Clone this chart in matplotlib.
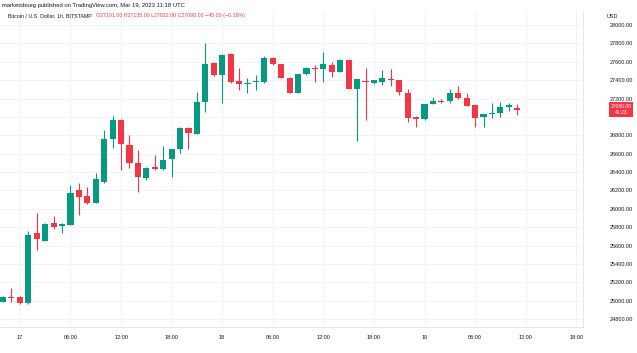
import numpy as np
import pandas as pd
import matplotlib
matplotlib.use("Agg")
from matplotlib import pyplot as plt
from matplotlib import rcParams

# hourly BTC/USD candles, Bitstamp, from 2023-03-16 22:00 UTC
opens = [24985, 25040, 25040, 24975, 25735, 25650, 25845, 25815, 25825, 26205,
         26140, 26065, 26290, 26760, 26965, 26695, 26500, 26335, 26455, 26435,
         26540, 26650, 26880, 26815, 27160, 27585, 27455, 27685, 27390, 27360,
         27380, 27380, 27640, 27575, 27425, 27260, 27465, 27530, 27520, 27565,
         27490, 27620, 27305, 27390, 27370, 27380, 27410, 27400, 27260, 27000,
         26975, 27140, 27175, 27170, 27260, 27205, 27130, 26995, 27030, 27045,
         27110, 27101]
highs = [25045, 25140, 25050, 25760, 25955, 25845, 25920, 25840, 26260, 26280,
         26235, 26390, 26860, 27010, 26975, 26805, 26640, 26450, 26585, 26685,
         26655, 26890, 26890, 27270, 27805, 27600, 27680, 27695, 27530, 27425,
         27455, 27665, 27650, 27580, 27430, 27470, 27545, 27565, 27705, 27595,
         27625, 27625, 27415, 27530, 27405, 27510, 27520, 27405, 27305, 27005,
         27145, 27215, 27195, 27305, 27335, 27260, 27135, 27035, 27150, 27160,
         27150, 27135]
lows = [24980, 24985, 24965, 24965, 25550, 25645, 25780, 25735, 25820, 25935,
        26050, 26060, 26285, 26660, 26420, 26445, 26185, 26315, 26420, 26420,
        26345, 26605, 26650, 26810, 27055, 27445, 27150, 27370, 27295, 27260,
        27295, 27370, 27565, 27420, 27255, 27255, 27455, 27380, 27380, 27435,
        27485, 27300, 26740, 26965, 27360, 27345, 27335, 27240, 26945, 26890,
        26970, 27135, 27150, 27150, 27195, 27115, 26890, 26890, 26990, 27000,
        27065, 27022]
closes = [25040, 25030, 24975, 25715, 25670, 25835, 25800, 25835, 26170, 26130,
          26065, 26325, 26760, 26965, 26705, 26500, 26345, 26445, 26435, 26530,
          26650, 26880, 26825, 27160, 27575, 27455, 27675, 27380, 27360, 27370,
          27390, 27640, 27575, 27425, 27260, 27465, 27530, 27520, 27575, 27490,
          27620, 27305, 27410, 27380, 27400, 27425, 27400, 27270, 26990, 26975,
          27140, 27175, 27160, 27260, 27205, 27120, 26990, 27030, 27045, 27110,
          27125, 27080]

price_ticks = list(range(24800, 28001, 200))
time_labels = ["17", "06:00", "12:00", "18:00", "18", "06:00", "12:00", "18:00",
               "19", "06:00", "12:00", "18:00"]

header = "marketsbueg published on TradingView.com, Mar 19, 2023 11:18 UTC"
symbol = "Bitcoin / U.S. Dollar, 1h, BITSTAMP"
ohlc_text = "O27101.00 H27135.00 L27022.00 C27080.00 \u221245.00 (\u22120.16%)"

times = pd.date_range("2023-03-16 22:00", periods=len(opens), freq="h")

UP = "#089981"
DOWN = "#f23645"
GRID = "#f0f3fa"
TEXT = "#131722"

rcParams["font.family"] = ["Liberation Sans", "DejaVu Sans"]

W, H = 637, 353
fig = plt.figure(figsize=(W / 100, H / 100), dpi=100)
fig.patch.set_facecolor("white")

top_px, bot_px, right_px = 11, 327, 583
ax = fig.add_axes([0, 1 - bot_px / H, right_px / W, (bot_px - top_px) / H])

x = np.arange(len(opens))
o = np.array(opens)
c = np.array(closes)
up = c >= o
colors = np.where(up, UP, DOWN)

ax.vlines(x, lows, highs, colors=colors, linewidth=0.8, zorder=3)
body_bottom = np.minimum(o, c)
body_h = np.maximum(np.abs(c - o), 6)
ax.bar(x, body_h, bottom=body_bottom, width=0.72, color=colors, linewidth=0, zorder=4)

ppx = (28000 - 24800) / (319 - 25)  # price per pixel
ax.set_ylim(28000 - (bot_px - 25) * ppx, 28000 + (25 - top_px) * ppx)
ax.set_xlim(-0.36, (right_px - 3) / 8.43)

# x ticks every 6 hours
tick_idx = [i for i in range(0, 70) if (times[0] + pd.Timedelta(hours=i)).hour % 6 == 0]
ax.set_xticks(tick_idx)
ax.set_xticklabels(time_labels[:len(tick_idx)], fontsize=4, color=TEXT)

ax.yaxis.tick_right()
ax.set_yticks(price_ticks)
ylabels = ["" if p == 27000 else f"{p:.2f}" for p in price_ticks]
ax.set_yticklabels(ylabels, fontsize=4, color=TEXT)
for lab in ax.get_yticklabels():
    lab.set_horizontalalignment("right")
ax.tick_params(axis="y", length=0, pad=36)
ax.tick_params(axis="x", length=0, pad=5.5)

ax.grid(True, color=GRID, linewidth=0.8, zorder=0)
ax.set_axisbelow(True)
for side in ["top", "left"]:
    ax.spines[side].set_visible(False)
for side in ["bottom", "right"]:
    ax.spines[side].set_color("#e0e3eb")
    ax.spines[side].set_linewidth(0.6)

# current price tag
ax.text(1.0 + 38 / right_px, closes[-1], f"{closes[-1]:.2f}\n41:23",
        transform=ax.get_yaxis_transform(), fontsize=3.6, color="white",
        ha="center", va="center", linespacing=1.2,
        bbox=dict(boxstyle="square,pad=0.35", fc=DOWN, ec="none"), clip_on=False, zorder=10)

fig.text((W - 30) / W, 1 - 16 / H, "USD", fontsize=4, color=TEXT, va="center", ha="left")

fig.text(2 / W, 1 - 5 / H, header, fontsize=4.2, color=TEXT, va="center")
fig.text(8 / W, 1 - 16 / H, symbol, fontsize=3.8, color=TEXT, va="center")
fig.text(96 / W, 1 - 16 / H, ohlc_text, fontsize=3.8, color=DOWN, va="center")

fig.savefig("out.png", dpi=100, facecolor="white")
